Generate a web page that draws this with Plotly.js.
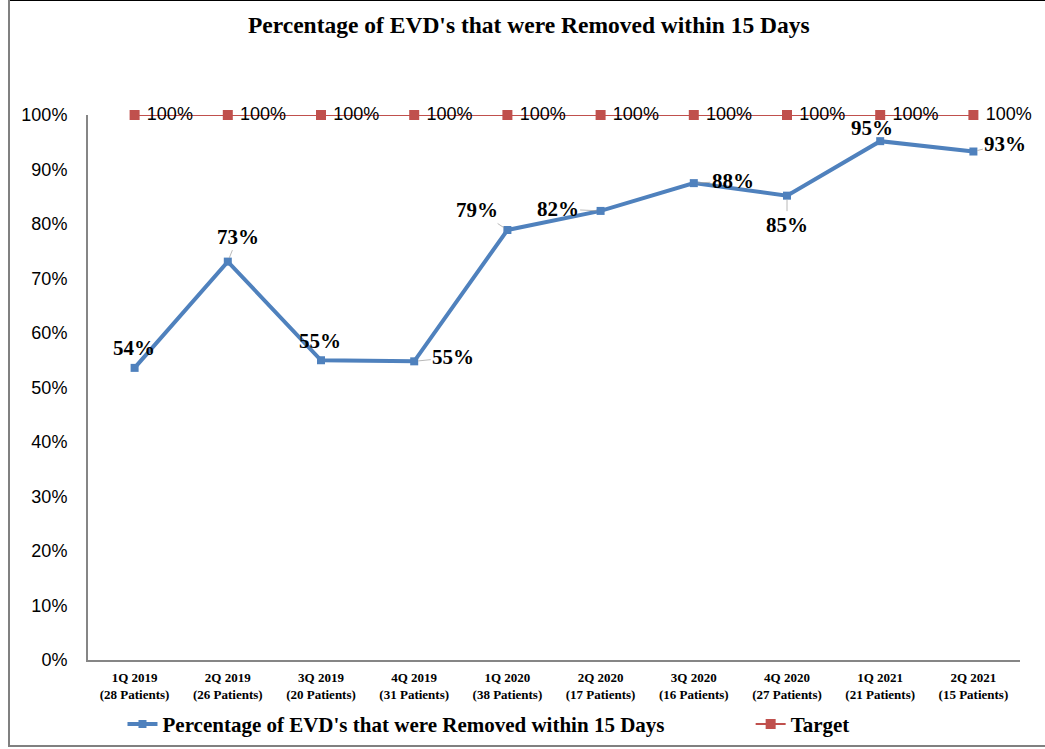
<!DOCTYPE html>
<html>
<head>
<meta charset="utf-8">
<script src="https://cdn.plot.ly/plotly-3.0.1.min.js"></script>
<style>
html,body{margin:0;padding:0;background:#fff;}
#chart{width:1045px;height:749px;}
</style>
</head>
<body>
<div id="chart"></div>
<script>
const quarters = ["1Q 2019","2Q 2019","3Q 2019","4Q 2019","1Q 2020","2Q 2020","3Q 2020","4Q 2020","1Q 2021","2Q 2021"];
const patients = [28,26,20,31,38,17,16,27,21,15];
const removedPct = [0.536,0.731,0.55,0.548,0.789,0.824,0.875,0.852,0.952,0.933];
const targetPct = [1,1,1,1,1,1,1,1,1,1];

// label placement offsets (px) for the series data labels: [dx, dy, leader line]
const labelOffsets = [[-1,-20,false],[10,-25,true],[-1,-19,false],[39,-4,true],[-30,-20,true],[-43,-2,true],[39,-2,true],[0,29,true],[-8,-13,false],[32,-8,true]];

const cats = quarters.map((q,i)=> q + "<br>(" + patients[i] + " Patients)");
const serif = "Liberation Serif, Times New Roman, serif";
const sans = "Liberation Sans, Arial, sans-serif";

const series = {
  x: cats, y: removedPct, type: "scatter", mode: "lines+markers",
  name: "Percentage of EVD's that were Removed within 15 Days",
  legend: "legend",
  line: {color: "#4f81bd", width: 4},
  marker: {symbol: "square", size: 8, color: "#4f81bd"},
  cliponaxis: false,
  hoverinfo: "skip"
};
const target = {
  x: cats, y: targetPct, type: "scatter", mode: "lines+markers+text",
  name: "Target",
  legend: "legend2",
  text: targetPct.map(v => "\u00A0" + Math.round(v*100) + "%"),
  textposition: "middle right",
  textfont: {family: sans, size: 18, color: "#000"},
  line: {color: "#c0504d", width: 2},
  marker: {symbol: "square", size: 10, color: "#c0504d"},
  cliponaxis: false,
  hoverinfo: "skip"
};

const annotations = removedPct.map((v,i)=>{
  const o = labelOffsets[i];
  const a = {
    x: cats[i], y: v, xref: "x", yref: "y",
    text: Math.round(v*100) + "%",
    font: {family: serif, size: 21, color: "#000", weight: "bold"},
  };
  if (o[2]) {
    Object.assign(a, {showarrow: true, ax: o[0], ay: o[1], arrowhead: 0, arrowwidth: 0.8, arrowcolor: "#a6a6a6", standoff: 4});
  } else {
    Object.assign(a, {showarrow: false, xshift: o[0], yshift: -o[1]});
  }
  return a;
});

const legendFont = {family: serif, size: 21, color: "#000", weight: "bold"};
const layout = {
  width: 1045, height: 749,
  margin: {l: 88, r: 25, t: 115, b: 89, autoexpand: false},
  paper_bgcolor: "#fff", plot_bgcolor: "#fff",
  showlegend: true,
  title: {text: "<b>Percentage of EVD's that were Removed within 15 Days</b>",
    font: {family: serif, size: 23.5, color: "#000"},
    x: 0.473, xref: "paper", xanchor: "center", y: 1 - 25/749, yref: "container", yanchor: "middle"},
  xaxis: {type: "category", categoryarray: cats, range: [-0.5, 9.5],
    showline: true, linecolor: "#868686", linewidth: 2, showgrid: false, zeroline: false,
    ticks: "", tickangle: 0, ticklabelstandoff: 4, automargin: false,
    tickfont: {family: serif, size: 13, color: "#000", weight: "bold"}},
  yaxis: {range: [0, 1], dtick: 0.1, tickformat: ".0%", automargin: false,
    showline: true, linecolor: "#868686", linewidth: 2, showgrid: false, zeroline: false,
    ticks: "", ticklabelstandoff: 15,
    tickfont: {family: sans, size: 18, color: "#000"}},
  legend: {orientation: "h", x: 0.037, xanchor: "left", y: -0.118, yanchor: "middle",
    font: legendFont, itemwidth: 30, bgcolor: "rgba(0,0,0,0)"},
  legend2: {orientation: "h", x: 0.711, xanchor: "left", y: -0.118, yanchor: "middle",
    font: legendFont, itemwidth: 30, bgcolor: "rgba(0,0,0,0)"},
  annotations: annotations,
  shapes: [
    {type: "line", xref: "paper", yref: "paper", x0: (8-88)/932, x1: (1045-88)/932, y0: 660/545, y1: 660/545, line: {color: "#000", width: 2}},
    {type: "line", xref: "paper", yref: "paper", x0: (9-88)/932, x1: (9-88)/932, y0: 660/545, y1: (660-747)/545, line: {color: "#808080", width: 2}},
    {type: "line", xref: "paper", yref: "paper", x0: (8-88)/932, x1: (1045-88)/932, y0: (660-746)/545, y1: (660-746)/545, line: {color: "#808080", width: 2}}
  ]
};

Plotly.newPlot("chart", [series, target], layout, {displayModeBar: false, staticPlot: true});
</script>
</body>
</html>
